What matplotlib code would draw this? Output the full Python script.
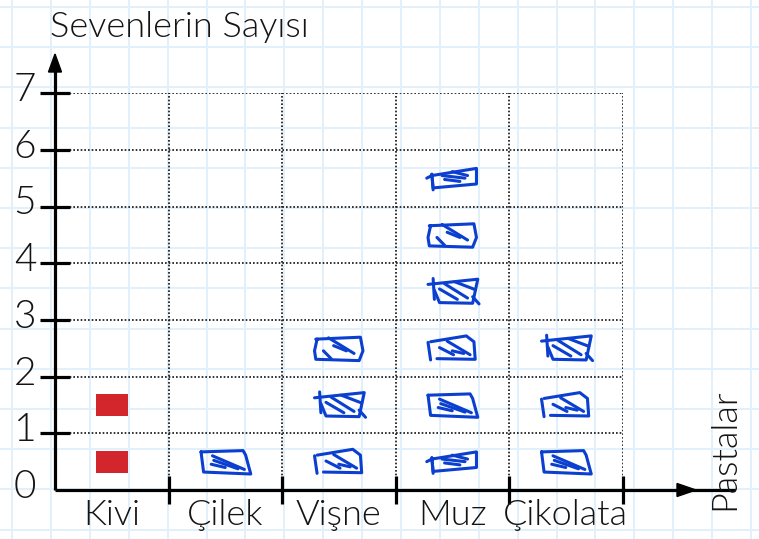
import matplotlib
matplotlib.use("Agg")
import matplotlib.pyplot as plt
from matplotlib.patches import Rectangle, Polygon

# --- data -------------------------------------------------------------
categories = ["Kivi", "Çilek", "Vişne", "Muz", "Çikolata"]
counts = [2, 1, 3, 6, 3]
y_ticks = [0, 1, 2, 3, 4, 5, 6, 7]
y_title = "Sevenlerin Sayısı"
x_title = "Pastalar"

# --- figure geometry (pixels) -----------------------------------------
W, H = 759, 539
X0, Y0 = 55, 490          # origin of the chart
UX, UY = 113.5, 56.7      # pixels per column / per unit
YMAX = 7

plt.rcParams["font.family"] = ["Lato", "DejaVu Sans"]
TXT = "#141414"
FW = 300
BLUE = "#0b3fcf"
RED = "#d3262c"

fig = plt.figure(figsize=(W / 100, H / 100), dpi=100)
fig.patch.set_facecolor("white")

# squared notebook paper behind everything
bg = fig.add_axes([0, 0, 1, 1], zorder=0)
bg.set_xlim(0, W)
bg.set_ylim(H, 0)
bg.axis("off")
gx = 12.0
while gx < W:
    bg.axvline(gx, color="#e1f0fb", lw=1.4)
    gx += 38.9
gy = 7.0
while gy < H:
    bg.axhline(gy, color="#e1f0fb", lw=1.4)
    gy += 40.2

ncat = len(categories)
ax = fig.add_axes([X0 / W, (H - Y0) / H, ncat * UX / W, YMAX * UY / H], zorder=1)
ax.set_xlim(0, ncat)
ax.set_ylim(0, YMAX)
ax.axis("off")
ax.patch.set_alpha(0)

def dx(px):
    return px / UX

def dy(px):
    return px / UY

# dotted guide lines
dot = dict(color="#111111", lw=1.2, linestyle=(0, (1, 1.2)), zorder=1)
for k in range(1, YMAX + 1):
    ax.plot([0, ncat], [k, k], **dot)
for c in range(1, ncat + 1):
    ax.plot([c, c], [0, YMAX], **dot)

# axes with arrow heads
AX_LW = 2.3
ax.plot([0, 0], [0, dy(Y0 - 70)], color="black", lw=AX_LW, clip_on=False,
        solid_capstyle="butt", zorder=3)
ax.plot([0, dx(680)], [0, 0], color="black", lw=AX_LW, clip_on=False,
        solid_capstyle="butt", zorder=3)
ax.add_patch(Polygon([(0, dy(Y0 - 54)), (-dx(6.5), dy(Y0 - 72)), (dx(6.5), dy(Y0 - 72))],
                     closed=True, color="black", clip_on=False, zorder=3))
ax.add_patch(Polygon([(dx(696 - X0), 0), (dx(677 - X0), dy(6.5)), (dx(677 - X0), -dy(6.5))],
                     closed=True, color="black", clip_on=False, zorder=3))

# tick stubs
for k in y_ticks[1:]:
    ax.plot([-dx(15), dx(15)], [k, k], color="black", lw=AX_LW, clip_on=False,
            solid_capstyle="butt", zorder=3)
for c in range(1, ncat + 1):
    ax.plot([c, c], [-dy(14), dy(14)], color="black", lw=AX_LW, clip_on=False,
            solid_capstyle="butt", zorder=3)

# tick labels
for k in y_ticks:
    ax.text(-dx(30), k - dy(8), str(k), ha="center", va="baseline",
            fontsize=28, color=TXT, fontweight=FW, clip_on=False)
for i, name in enumerate(categories):
    ax.text(i + 0.5, -dy(35), name, ha="center", va="baseline",
            fontsize=26, color=TXT, fontweight=FW, clip_on=False)

fig.text(50 / W, 1 - 37 / H, y_title, ha="left", va="baseline",
         fontsize=26, color=TXT, fontweight=FW)
fig.text(724 / W, 1 - 449 / H, x_title, ha="center", va="center", rotation=90,
         fontsize=26, color=TXT, fontweight=FW)

# hand-sketched cake icons: outline strokes and hatch strokes in unit coords
sketches = [
    ([[(-0.95, 0.75), (0.7, 0.85), (0.8, 0.5), (1.0, -0.95), (-0.85, -0.8), (-0.95, 0.75)]],
     [[(-0.5, 0.45), (0.75, -0.6)], [(-0.45, 0.1), (0.5, -0.55)], [(-0.55, -0.2), (0.0, -0.45)]]),
    ([[(-0.85, 0.5), (0.55, 0.95), (0.85, 0.5), (0.9, -0.85), (-0.6, -0.8)],
      [(-0.95, 0.45), (-0.85, -0.9)]],
     [[(-0.2, 0.55), (0.7, -0.5)], [(-0.5, 0.05), (0.05, -0.5)], [(0.0, -0.2), (0.45, -0.4)]]),
    ([[(-0.75, 1.0), (-0.7, -0.6)],
      [(-0.95, 0.55), (1.0, 0.95), (0.8, -0.9), (-0.5, -0.85), (-0.7, 0.1)],
      [(0.8, -0.4), (1.05, -0.95)]],
     [[(-0.3, 0.6), (0.6, -0.5)], [(-0.5, 0.2), (0.2, -0.6)], [(0.1, 0.75), (0.9, 0.15)]]),
    ([[(-0.9, 0.7), (0.85, 0.85), (0.95, -0.2), (0.8, -0.95), (-0.9, -0.85),
       (-0.95, -0.2), (-0.85, 0.7)]],
     [[(-0.4, 0.8), (0.6, -0.4)], [(-0.2, 0.2), (0.3, -0.2)], [(-0.6, -0.2), (-0.3, -0.8)]]),
    ([[(-1.0, 0.0), (-0.8, 0.2), (0.95, 0.75), (0.95, -0.45), (-0.75, -0.75), (-0.8, 0.3)],
      [(-0.8, 0.3), (-0.75, -0.9)]],
     [[(-0.4, 0.2), (0.5, 0.0)], [(-0.3, -0.1), (0.3, -0.25)], [(0.0, 0.5), (0.6, 0.2)]]),
]

ICON_HW, ICON_HH = dx(25.5), dy(13)
SQ_HW, SQ_HH = dx(16), dy(11)

n = 0
for i, cnt in enumerate(counts):
    cx = i + 0.5
    for k in range(cnt):
        cy = k + 0.5
        if i == 0:
            ax.add_patch(Rectangle((cx - SQ_HW, cy - SQ_HH), 2 * SQ_HW, 2 * SQ_HH,
                                   facecolor=RED, edgecolor="none", zorder=4))
            continue
        strokes, hatches = sketches[n % len(sketches)]
        n += 1
        for s in strokes + hatches:
            xs = [cx + u * ICON_HW for u, v in s]
            ys = [cy + v * ICON_HH for u, v in s]
            ax.plot(xs, ys, color=BLUE, lw=2.2, solid_capstyle="round",
                    solid_joinstyle="round", zorder=4)

fig.savefig("out.png", dpi=100, facecolor="white")
